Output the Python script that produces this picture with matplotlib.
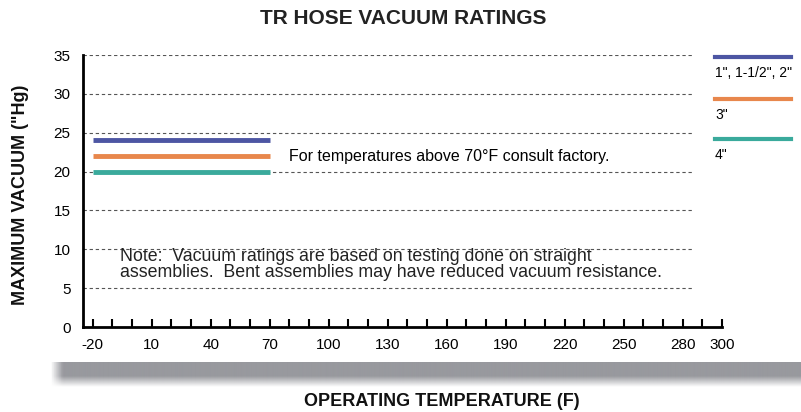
import matplotlib.pyplot as plt
import numpy as np
from matplotlib.lines import Line2D

# data
series_labels = ['1", 1-1/2", 2"', '3"', '4"']
series_values = [24, 22, 20]
series_colors = ['#4d56a3', '#e8874c', '#3aaa9c']
temp_start = -20
temp_end = 70

x_tick_labels = [-20, 10, 40, 70, 100, 130, 160, 190, 220, 250, 280, 300]
y_tick_labels = [0, 5, 10, 15, 20, 25, 30, 35]

narrow = ['Liberation Sans Narrow', 'Liberation Sans', 'DejaVu Sans']
arial = ['Liberation Sans', 'DejaVu Sans']

fig = plt.figure(figsize=(8.01, 4.12), dpi=100)
ax = fig.add_axes([0.1036, 0.2063, 0.7978, 0.6602])

# shadow bar below the plot
sh = fig.add_axes([50 / 801, 1 - 392 / 412, 1 - 50 / 801, 30 / 412], zorder=-5)
h, w = 60, 400
img = np.zeros((h, w, 4))
img[..., :3] = np.array([0x98, 0x99, 0x9e]) / 255
vy = np.linspace(0, 30, h)
a_v = np.clip(1 - (vy - 14) / 11, 0, 1)
vx = np.linspace(0, 751, w)
a_h = np.clip(vx / 12, 0, 1)
img[..., 3] = a_v[:, None] * a_h[None, :]
sh.imshow(img, aspect='auto', extent=[0, 1, 0, 1], origin='upper')
sh.axis('off')

# dashed grid lines
ax.hlines(y_tick_labels[1:], -25, 285, colors='#555555', linestyles=(0, (3, 2.5)), lw=0.8, zorder=1)

# rating lines
for val, col in zip(series_values, series_colors):
    ax.plot([temp_start, temp_end], [val, val], color=col, lw=3.5, solid_capstyle='butt', zorder=3)

ax.set_xlim(-25, 300)
ax.set_ylim(0, 35)

for s in ['top', 'right']:
    ax.spines[s].set_visible(False)
for s in ['left', 'bottom']:
    ax.spines[s].set_linewidth(2)

ax.set_xticks(x_tick_labels)
ax.set_xticklabels([str(v) for v in x_tick_labels], family=narrow, fontsize=11)
ax.set_xticks(np.arange(-20, 301, 10), minor=True)
ax.tick_params(axis='x', which='both', direction='in', length=6, width=1.5, pad=8)
ax.set_yticks(y_tick_labels)
ax.set_yticklabels([str(v) for v in y_tick_labels], family=narrow, fontsize=11)
ax.tick_params(axis='y', length=0, pad=9)

ax.text(0.322, 22, 'For temperatures above 70°F consult factory.', family=narrow, fontsize=11.5,
        va='center', ha='left', transform=ax.get_yaxis_transform())
ax.text(-6, 8.0, 'Note:  Vacuum ratings are based on testing done on straight\n'
        'assemblies.  Bent assemblies may have reduced vacuum resistance.',
        family=arial, fontsize=12.8, va='center', ha='left', linespacing=0.9, color='#222222')

# legend drawn to the right of the axes
leg_y = [0.993, 0.838, 0.691]
for lab, col, yy in zip(series_labels, series_colors, leg_y):
    ax.add_line(Line2D([0.989, 1.108], [yy, yy], color=col, lw=3, transform=ax.transAxes, clip_on=False))
    ax.text(0.989, yy - 0.06, lab, family=narrow, fontsize=10, va='center', ha='left',
            transform=ax.transAxes)

fig.text(0.503, 0.955, 'TR HOSE VACUUM RATINGS', family=arial, fontweight='bold',
         fontsize=15, ha='center', va='center', color='#222222')
fig.text(0.551, 0.026, 'OPERATING TEMPERATURE (F)', family=arial, fontweight='bold',
         fontsize=13, ha='center', va='center', color='#111111')
fig.text(0.025, 0.527, 'MAXIMUM VACUUM ("Hg)', family=arial, fontweight='bold',
         fontsize=13, ha='center', va='center', rotation=90, color='#111111')

fig.savefig('out.png', dpi=100)
